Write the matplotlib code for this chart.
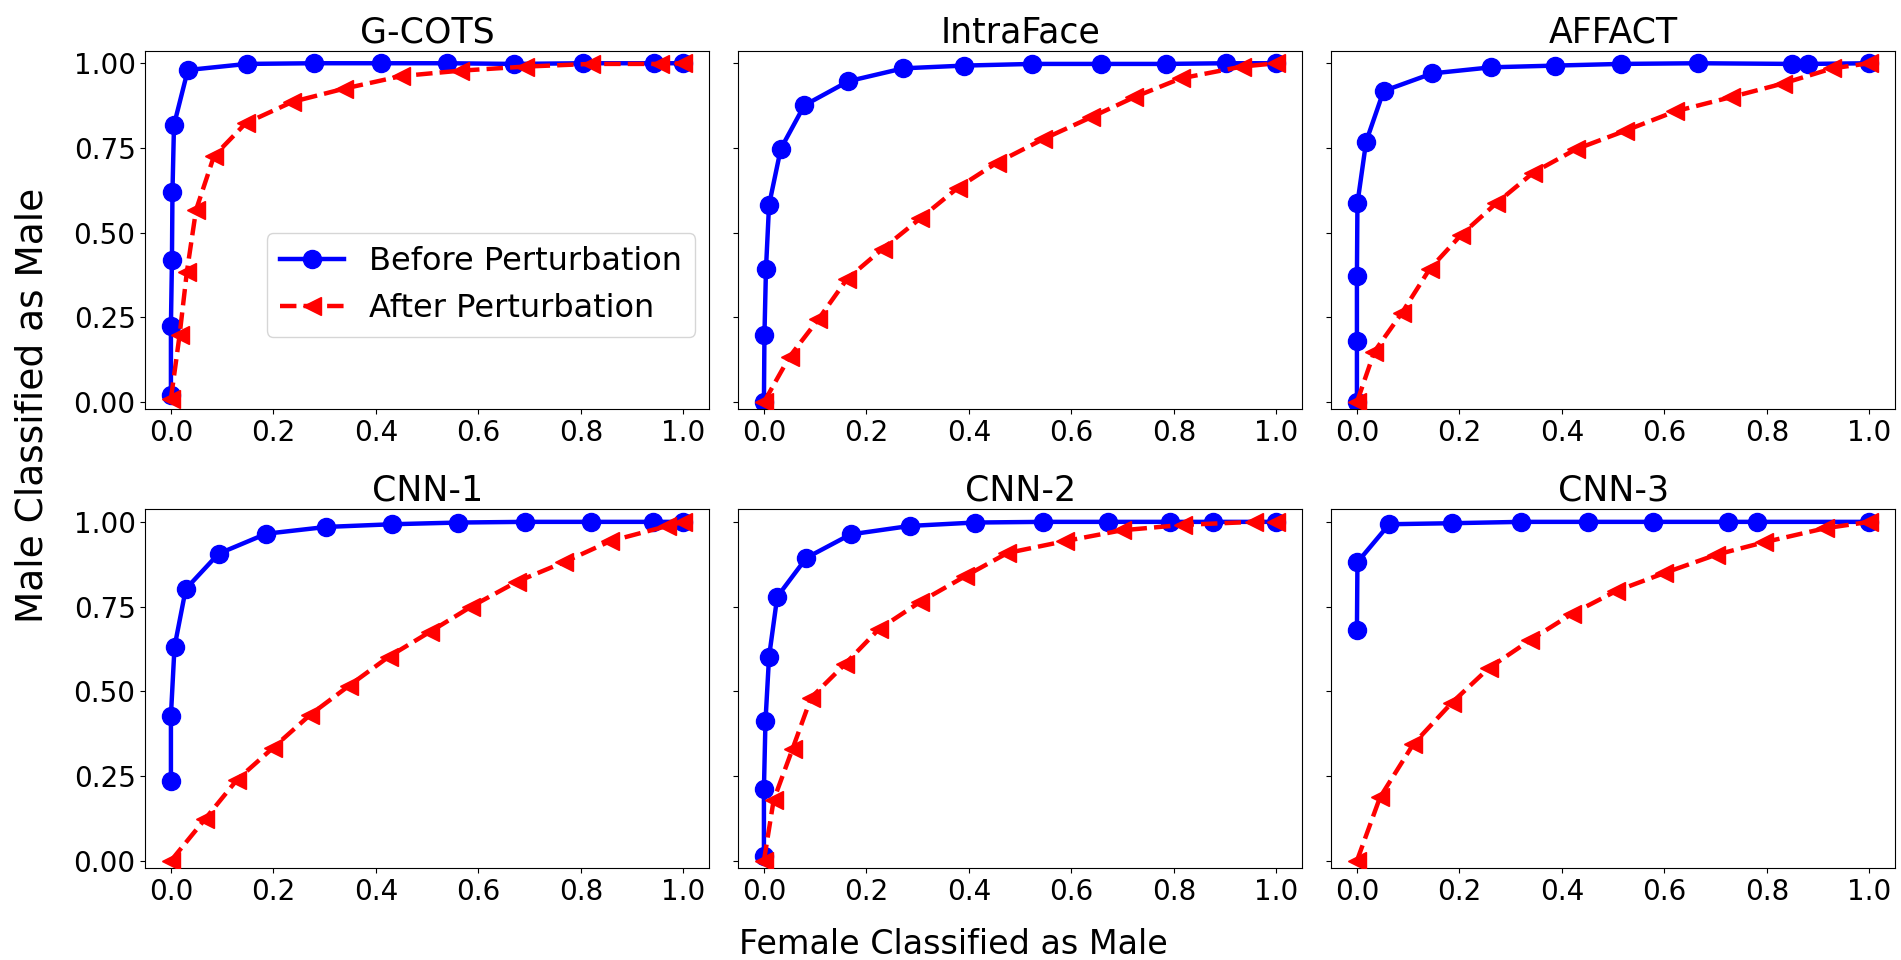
import matplotlib
matplotlib.use("Agg")
import matplotlib.pyplot as plt

titles = ["G-COTS", "IntraFace", "AFFACT", "CNN-1", "CNN-2", "CNN-3"]

# Before perturbation (blue)
gcots_before_x = [0.0, 0.0, 0.002, 0.003, 0.006, 0.033, 0.148, 0.279, 0.41, 0.538, 0.67, 0.805, 0.942, 1.0]
gcots_before_y = [0.02, 0.226, 0.418, 0.619, 0.818, 0.98, 0.998, 1.0, 1.0, 1.0, 0.998, 1.0, 1.0, 1.0]
intra_before_x = [0.0, 0.001, 0.004, 0.01, 0.033, 0.079, 0.165, 0.272, 0.39, 0.524, 0.658, 0.784, 0.902, 1.0]
intra_before_y = [0.0, 0.197, 0.393, 0.582, 0.748, 0.876, 0.947, 0.985, 0.993, 0.998, 0.998, 0.998, 1.0, 1.0]
affact_before_x = [0.0, 0.0, 0.0, 0.001, 0.018, 0.052, 0.147, 0.262, 0.386, 0.515, 0.665, 0.849, 0.881, 1.0]
affact_before_y = [0.0, 0.179, 0.373, 0.587, 0.769, 0.918, 0.97, 0.988, 0.993, 0.998, 1.0, 0.998, 0.998, 1.0]
cnn1_before_x = [0.0, 0.0, 0.007, 0.029, 0.093, 0.186, 0.303, 0.432, 0.561, 0.69, 0.819, 0.941, 1.0]
cnn1_before_y = [0.235, 0.428, 0.631, 0.802, 0.906, 0.965, 0.985, 0.993, 0.998, 1.0, 1.0, 1.0, 1.0]
cnn2_before_x = [0.0, 0.0, 0.003, 0.01, 0.026, 0.083, 0.169, 0.285, 0.411, 0.544, 0.672, 0.792, 0.877, 1.0]
cnn2_before_y = [0.013, 0.212, 0.411, 0.602, 0.779, 0.894, 0.963, 0.988, 0.998, 1.0, 1.0, 1.0, 1.0, 1.0]
cnn3_before_x = [0.0, 0.001, 0.063, 0.185, 0.321, 0.45, 0.578, 0.724, 0.781, 1.0]
cnn3_before_y = [0.68, 0.881, 0.993, 0.996, 1.0, 1.0, 1.0, 1.0, 1.0, 1.0]

# After perturbation (red)
gcots_after_x = [0.0, 0.017, 0.031, 0.049, 0.084, 0.146, 0.237, 0.338, 0.449, 0.564, 0.69, 0.819, 0.955, 1.0]
gcots_after_y = [0.01, 0.199, 0.383, 0.567, 0.726, 0.823, 0.886, 0.925, 0.962, 0.978, 0.99, 0.998, 0.998, 1.0]
intra_after_x = [0.0, 0.05, 0.106, 0.162, 0.232, 0.305, 0.378, 0.454, 0.545, 0.639, 0.723, 0.813, 0.932, 1.0]
intra_after_y = [0.0, 0.134, 0.244, 0.363, 0.453, 0.542, 0.632, 0.706, 0.776, 0.841, 0.9, 0.955, 0.99, 1.0]
affact_after_x = [0.0, 0.034, 0.088, 0.142, 0.203, 0.272, 0.344, 0.427, 0.524, 0.621, 0.73, 0.831, 0.928, 1.0]
affact_after_y = [0.0, 0.149, 0.264, 0.393, 0.493, 0.587, 0.677, 0.746, 0.801, 0.858, 0.9, 0.94, 0.985, 1.0]
cnn1_after_x = [0.0, 0.066, 0.129, 0.199, 0.272, 0.348, 0.425, 0.505, 0.585, 0.676, 0.767, 0.857, 0.969, 1.0]
cnn1_after_y = [0.0, 0.122, 0.239, 0.333, 0.431, 0.517, 0.602, 0.675, 0.749, 0.824, 0.881, 0.943, 0.988, 1.0]
cnn2_after_x = [0.0, 0.019, 0.056, 0.092, 0.158, 0.224, 0.305, 0.392, 0.475, 0.587, 0.698, 0.817, 0.956, 1.0]
cnn2_after_y = [0.0, 0.179, 0.331, 0.481, 0.58, 0.683, 0.764, 0.839, 0.908, 0.943, 0.975, 0.991, 1.0, 1.0]
cnn3_after_x = [0.0, 0.045, 0.11, 0.185, 0.257, 0.337, 0.42, 0.506, 0.6, 0.701, 0.795, 0.913, 1.0]
cnn3_after_y = [0.0, 0.187, 0.344, 0.466, 0.568, 0.65, 0.729, 0.796, 0.849, 0.903, 0.94, 0.981, 1.0]

before = [(gcots_before_x, gcots_before_y), (intra_before_x, intra_before_y),
          (affact_before_x, affact_before_y), (cnn1_before_x, cnn1_before_y),
          (cnn2_before_x, cnn2_before_y), (cnn3_before_x, cnn3_before_y)]
after = [(gcots_after_x, gcots_after_y), (intra_after_x, intra_after_y),
         (affact_after_x, affact_after_y), (cnn1_after_x, cnn1_after_y),
         (cnn2_after_x, cnn2_after_y), (cnn3_after_x, cnn3_after_y)]

x_ticks = [0.0, 0.2, 0.4, 0.6, 0.8, 1.0]
y_ticks = [0.0, 0.25, 0.5, 0.75, 1.0]

W, H = 1901, 960
fig, axes = plt.subplots(2, 3, figsize=(W / 100, H / 100), dpi=100, sharey=True)
fig.subplots_adjust(left=145.3 / W, right=1895 / W, top=1 - 50.7 / H, bottom=1 - 867.9 / H,
                    wspace=0.052, hspace=0.279)

for i, ax in enumerate(axes.flat):
    bx, by = before[i]
    rx, ry = after[i]
    ax.plot(bx, by, color="blue", marker="o", linestyle="-", linewidth=3.2,
            markersize=13, label="Before Perturbation", zorder=2)
    ax.plot(rx, ry, color="red", marker="<", linestyle="--", linewidth=3.2,
            markersize=13, label="After Perturbation", zorder=3)
    ax.set_title(titles[i], fontsize=25)
    ax.set_xticks(x_ticks)
    ax.set_xticklabels([f"{t:.1f}" for t in x_ticks])
    ax.set_yticks(y_ticks)
    ax.set_yticklabels([f"{t:.2f}" for t in y_ticks])
    ax.tick_params(labelsize=20)
    ax.set_xlim(-0.05, 1.05)
    ax.set_ylim(-0.021, 1.037)

axes[0, 0].legend(loc="lower right", bbox_to_anchor=(0.975, 0.2025), borderaxespad=0,
                  fontsize=23)

fig.text(953 / W, 1 - 954 / H, "Female Classified as Male", ha="center", va="baseline",
         fontsize=24)
fig.text(33 / W, 1 - 405 / H, "Male Classified as Male", ha="center", va="center",
         rotation=90, fontsize=27)

fig.savefig("out.png", dpi=100)
